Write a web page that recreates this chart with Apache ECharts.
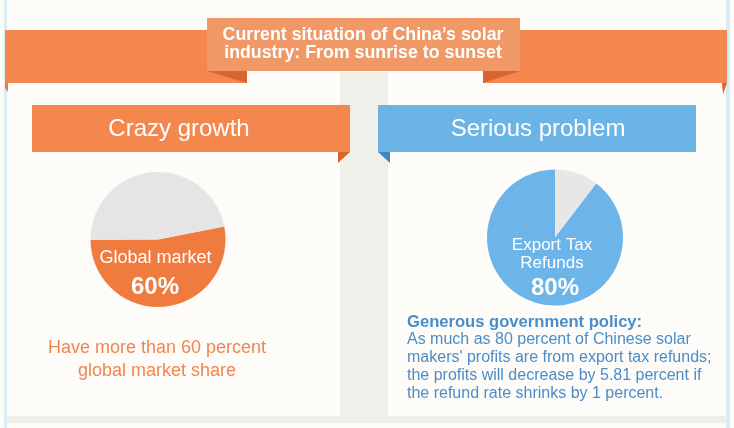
<!DOCTYPE html>
<html>
<head>
<meta charset="utf-8">
<script src="https://cdn.jsdelivr.net/npm/echarts@6/dist/echarts.min.js"></script>
<style>
html,body{margin:0;padding:0;background:#fdfcf7;}
#chart{width:734px;height:428px;}
</style>
</head>
<body>
<div id="chart"></div>
<script>
// ---- data ----
const titleLines = ["Current situation of China\u2019s solar", "industry: From sunrise to sunset"];
const sectionTitles = ["Crazy growth", "Serious problem"];
const leftSliceNames = ["Global market", "Other"];
const leftSliceShares = [53, 47];          // as drawn
const leftStat = "60%";
const rightSliceNames = ["Other", "Export Tax Refunds"];
const rightSliceShares = [10.4, 89.6];     // as drawn
const rightStat = "80%";
const leftNote = ["Have more than 60 percent", "global market share"];
const rightHeading = "Generous government policy:";
const rightNote = [
  "As much as 80 percent of Chinese solar",
  "makers' profits are from export tax refunds;",
  "the profits will decrease by 5.81 percent if",
  "the refund rate shrinks by 1 percent."
];

const FONT = "'Liberation Sans', Arial, sans-serif";
const ORANGE = '#f3874e', ORANGE_LIGHT = '#f09866', ORANGE_DARK = '#d9642f';
const BLUE = '#6cb3e6', BLUE_DARK = '#3d87c6', TEXT_BLUE = '#4a8dcb';

const chart = echarts.init(document.getElementById('chart'), null, {renderer: 'canvas'});

function rect(x, y, w, h, fill, z) {
  return {type: 'rect', shape: {x, y, width: w, height: h}, style: {fill}, z: z || 0, silent: true};
}
function poly(points, fill, z) {
  return {type: 'polygon', shape: {points}, style: {fill}, z: z || 1, silent: true};
}
function txt(x, y, text, size, color, weight, align) {
  return {type: 'text', x, y, z: 20, silent: true,
    style: {text, fill: color, font: (weight || 'normal') + ' ' + size + 'px ' + FONT,
      align: align || 'center', verticalAlign: 'middle'}};
}

const g = [];
// background frame
g.push(rect(0, 0, 734, 428, '#fdfcf7', -5));
g.push(rect(4, 0, 3, 428, '#dcedf8', -4));
g.push(rect(726, 0, 4, 428, '#d6eaf7', -4));
g.push(rect(7, 0, 719, 416, '#fdfcf8', -3));
g.push(rect(340, 72, 48, 344, '#f0f0ea', -2));
g.push(rect(7, 416, 720, 7, '#efefe8', -2));
// top ribbon
g.push(rect(5, 30, 242, 53, ORANGE, 1));
g.push(rect(483, 30, 244, 53, ORANGE, 1));
g.push(poly([[5, 83], [8, 83], [8, 92], [5, 88]], '#e8774a', 1));
g.push(poly([[722, 83], [727, 83], [723, 94]], ORANGE_DARK, 1));
g.push(poly([[207, 71], [247, 71], [247, 83]], ORANGE_DARK, 2));
g.push(poly([[483, 71], [520, 71], [483, 83]], ORANGE_DARK, 2));
g.push(rect(207, 18, 313, 53, ORANGE_LIGHT, 3));
g.push(txt(363, 35, titleLines[0], 17.8, '#ffffff', 'bold'));
g.push(txt(363, 53, titleLines[1], 17.8, '#ffffff', 'bold'));
// section banners
g.push(rect(32, 105, 318, 47, ORANGE, 3));
g.push(poly([[338, 152], [350, 152], [338, 163]], ORANGE_DARK, 3));
g.push(txt(179, 129, sectionTitles[0], 24, '#ffffff'));
g.push(rect(378, 105, 318, 47, BLUE, 3));
g.push(poly([[378, 152], [390, 152], [390, 163]], BLUE_DARK, 3));
g.push(txt(538, 129, sectionTitles[1], 24, '#ffffff'));
// pie labels
g.push(txt(155.5, 258, leftSliceNames[0], 18, '#ffffff'));
g.push(txt(155, 287, leftStat, 24, '#ffffff', 'bold'));
g.push(txt(552, 245, 'Export Tax', 17, '#ffffff'));
g.push(txt(552, 263, 'Refunds', 17, '#ffffff'));
g.push(txt(555, 288, rightStat, 24, '#ffffff', 'bold'));
// notes
g.push(txt(157, 348, leftNote[0], 18, '#ef8650'));
g.push(txt(157, 371, leftNote[1], 18, '#ef8650'));
g.push(txt(407, 322, rightHeading, 16.6, TEXT_BLUE, 'bold', 'left'));
rightNote.forEach((line, i) => g.push(txt(407, 340 + i * 18, line, 16, TEXT_BLUE, 'normal', 'left')));

chart.setOption({
  backgroundColor: '#fdfcf7',
  animation: false,
  graphic: {elements: g},
  series: [
    {
      type: 'pie', z: 10, silent: true,
      center: [158, 239.5], radius: 67.5,
      startAngle: 11, clockwise: true,
      label: {show: false}, labelLine: {show: false},
      itemStyle: {borderWidth: 0},
      data: leftSliceNames.map((n, i) => ({name: n, value: leftSliceShares[i],
        itemStyle: {color: i === 0 ? '#f07b3f' : '#e5e5e5'}}))
    },
    {
      type: 'pie', z: 10, silent: true,
      center: [555, 237.5], radius: 68,
      startAngle: 90, clockwise: true,
      label: {show: false}, labelLine: {show: false},
      itemStyle: {borderWidth: 0},
      data: rightSliceNames.map((n, i) => ({name: n, value: rightSliceShares[i],
        itemStyle: {color: i === 0 ? '#e7e7e7' : '#6db4e8'}}))
    }
  ]
});
</script>
</body>
</html>
